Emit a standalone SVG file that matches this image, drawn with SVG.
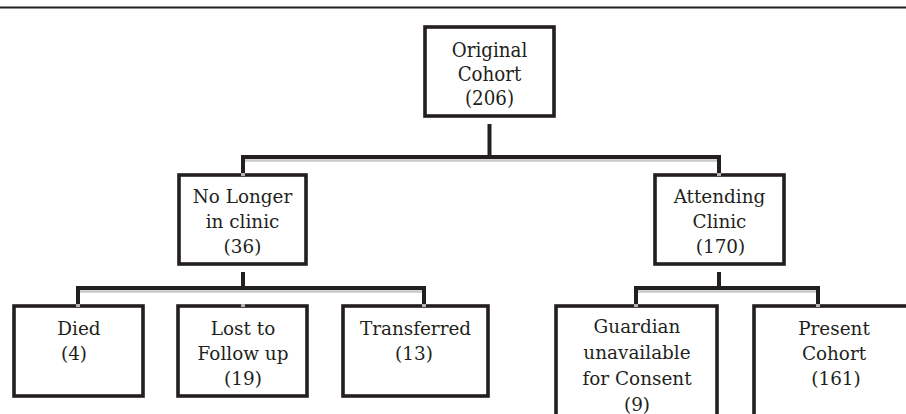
<svg xmlns="http://www.w3.org/2000/svg" width="906" height="414" viewBox="0 0 906 414">
<style>
.box{fill:#fff;stroke:#231f20;stroke-width:3.6}
.t{font-family:"DejaVu Serif","Liberation Serif",serif;font-size:18.4px;fill:#231f20;text-anchor:middle}
.tc{font-family:"DejaVu Serif Condensed","DejaVu Serif","Liberation Serif",serif;font-size:20.3px;fill:#231f20;text-anchor:middle}
.c{fill:none;stroke:#231f20;stroke-width:4;stroke-linejoin:miter;stroke-linecap:butt}
.sh{fill:none;stroke:#c8c8c8;stroke-width:2.5}
.tip{fill:#b4b4b4}
</style>
<rect width="906" height="414" fill="#fff"/>
<line x1="0" y1="7.5" x2="906" y2="7.5" stroke="#231f20" stroke-width="1.8"/>
<g id="original">
<rect class="box" x="425" y="27" width="129" height="89"/>
<text class="tc" x="489.5" y="57">Original</text>
<text class="tc" x="489.5" y="81">Cohort</text>
<text class="tc" x="489.5" y="105">(206)</text>
</g>
<g id="nolonger">
<rect class="box" x="179" y="175" width="127" height="89"/>
<text class="t" x="242.5" y="203">No Longer</text>
<text class="t" x="242.5" y="228">in clinic</text>
<text class="t" x="242.5" y="253">(36)</text>
</g>
<g id="attending">
<rect class="box" x="655" y="175" width="129" height="89"/>
<text class="t" x="719.5" y="203">Attending</text>
<text class="t" x="719.5" y="228">Clinic</text>
<text class="t" x="720.5" y="253">(170)</text>
</g>
<g id="died">
<rect class="box" x="14" y="306" width="129" height="90"/>
<text class="t" x="79" y="335">Died</text>
<text class="t" x="74" y="360">(4)</text>
</g>
<g id="lost">
<rect class="box" x="178" y="306" width="129" height="90"/>
<text class="t" x="243" y="335">Lost to</text>
<text class="t" x="243" y="360">Follow up</text>
<text class="t" x="243" y="385">(19)</text>
</g>
<g id="transferred">
<rect class="box" x="343" y="306" width="145" height="90"/>
<text class="t" x="415.5" y="335">Transferred</text>
<text class="t" x="414" y="360">(13)</text>
</g>
<g id="guardian">
<rect class="box" x="556" y="306" width="161" height="130"/>
<text class="t" x="637" y="333">Guardian</text>
<text class="t" x="637" y="359">unavailable</text>
<text class="t" x="637" y="385">for Consent</text>
<text class="t" x="637" y="411">(9)</text>
</g>
<g id="present">
<rect class="box" x="754" y="306" width="162" height="130"/>
<text class="t" x="834" y="335">Present</text>
<text class="t" x="834" y="360">Cohort</text>
<text class="t" x="836" y="385">(161)</text>
</g>
<g id="connectors">
<path class="sh" d="M245 160.5 H717"/>
<path class="sh" d="M80 291.5 H422"/>
<path class="sh" d="M638 291.5 H816"/>
<path class="c" d="M489.5 124 V157"/>
<path class="c" d="M243 173 V157 H719 V173"/>
<path class="c" d="M243 272 V288"/>
<path class="c" d="M78 304 V288 H424 V304"/>
<path class="c" d="M719 272 V288"/>
<path class="c" d="M636 304 V288 H818 V304"/>
<rect class="tip" x="241" y="173" width="4" height="3"/>
<rect class="tip" x="717" y="173" width="4" height="3"/>
<rect class="tip" x="76" y="304" width="4" height="3"/>
<rect class="tip" x="241" y="304" width="4" height="3"/>
<rect class="tip" x="422" y="304" width="4" height="3"/>
<rect class="tip" x="634" y="304" width="4" height="3"/>
<rect class="tip" x="816" y="304" width="4" height="3"/>
</g>
</svg>
